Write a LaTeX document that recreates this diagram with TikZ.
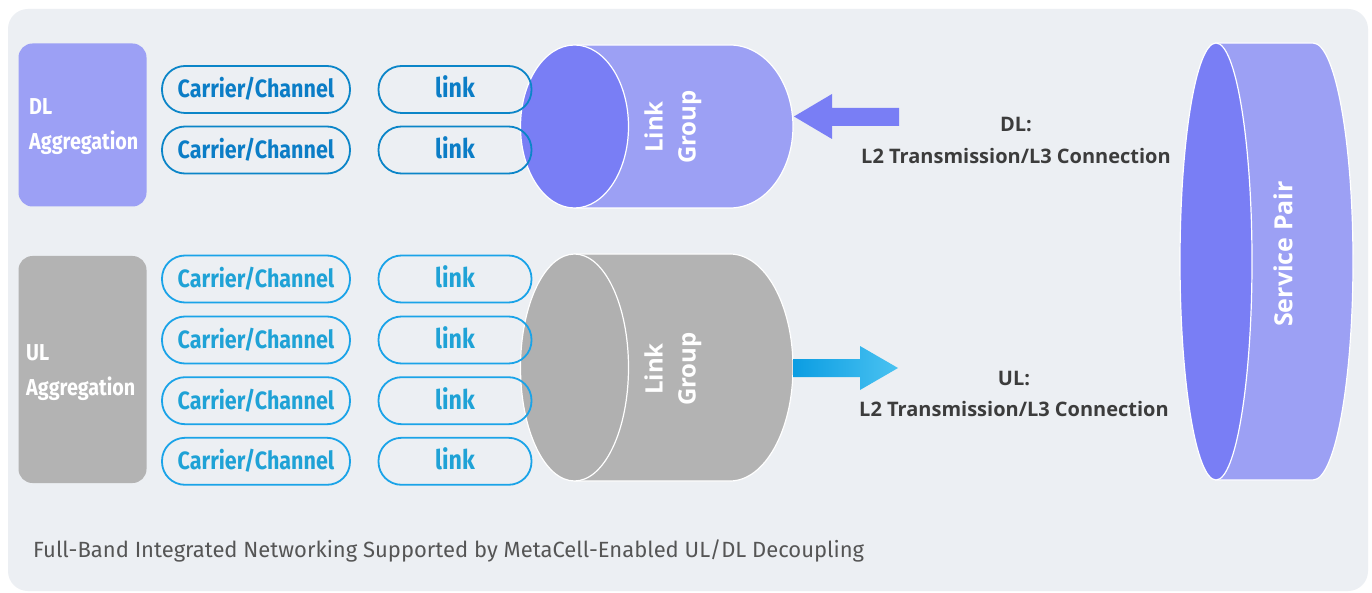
\documentclass[tikz,border=0pt]{standalone}
\usepackage{fontspec}
\setmainfont{Open Sans}
\newfontfamily\cond[FakeStretch=0.86]{Fira Sans}
\newfontfamily\capfont{Fira Sans}
\usetikzlibrary{calc}
\definecolor{bg}{HTML}{ECEFF3}
\definecolor{dlbox}{HTML}{9CA0F5}
\definecolor{ulbox}{HTML}{B3B3B3}
\definecolor{dlbody}{HTML}{9CA0F4}
\definecolor{dlface}{HTML}{797EF5}
\definecolor{ulbody}{HTML}{B3B3B3}
\definecolor{ulface}{HTML}{B0B0B0}
\definecolor{dlline}{HTML}{0B85C8}
\definecolor{dltext}{HTML}{0B7DC6}
\definecolor{ulline}{HTML}{1AA3E8}
\definecolor{ultext}{HTML}{1FA2D6}
\definecolor{arrA}{HTML}{0B9DE2}
\definecolor{arrB}{HTML}{4AC2F1}
\definecolor{labtext}{HTML}{3C3C3C}
\definecolor{captext}{HTML}{555555}
\tikzset{
  aggbox/.style={rounded corners=14pt, minimum width=128pt, inner sep=0pt, draw=none},
  aggtext/.style={anchor=base west, text=white, inner sep=0pt, font=\cond\bfseries\fontsize{23}{28}\selectfont},
  pill/.style={rounded corners=23pt, minimum height=47pt, inner sep=0pt, line width=1.8pt, text height=17pt, text depth=0pt, font=\cond\bfseries\fontsize{25}{30}\selectfont},
  carrier/.style={pill, minimum width=188pt},
  linkpill/.style={pill, minimum width=153pt, font=\cond\bfseries\fontsize{27}{30}\selectfont},
  dlpill/.style={draw=dlline, text=dltext},
  ulpill/.style={draw=ulline, text=ultext},
  cyltext/.style={rotate=90, text=white, align=center, inner sep=0pt, font=\bfseries\fontsize{24}{33}\selectfont},
  lab/.style={anchor=base, text=labtext, inner sep=0pt, font=\bfseries\fontsize{20}{24}\selectfont},
}
\begin{document}
\begin{tikzpicture}[x=1pt,y=-1pt]
\useasboundingbox (0,0) rectangle (1372,593);
\fill[white] (0,0) rectangle (1372,593);
\fill[bg, rounded corners=20pt] (8,9) rectangle (1368,591);

% aggregation boxes
\node[aggbox, fill=dlbox, minimum height=163pt] (dlagg) at (82.5,125) {};
\node[aggbox, fill=ulbox, minimum height=227pt] (ulagg) at (82.5,369.5) {};
\node[aggtext] (dlagg1) at (29,115) {DL};
\node[aggtext] (dlagg2) at (29,150) {Aggregation};
\node[aggtext] (ulagg1) at (26,360) {UL};
\node[aggtext] (ulagg2) at (26,395) {Aggregation};

% DL link group cylinder
\draw[fill=dlbody, draw=white, line width=1.2pt] (574.5,45) -- (730,45)
  arc[start angle=-90, end angle=90, x radius=63, y radius=81.5] -- (574.5,208) -- cycle;
\draw[fill=dlface, draw=white, line width=1.2pt] (574.5,126.5) ellipse [x radius=54, y radius=81.5];
\node[cyltext] (dlgroup) at (673,127) {Link\\Group};

% UL link group cylinder
\draw[fill=ulbody, draw=white, line width=1.2pt] (574.5,254) -- (730,254)
  arc[start angle=-90, end angle=90, x radius=63, y radius=113.5] -- (574.5,481) -- cycle;
\draw[fill=ulface, draw=white, line width=1.2pt] (574.5,367.5) ellipse [x radius=54, y radius=113.5];
\node[cyltext] (ulgroup) at (673,369) {Link\\Group};

% Service pair cylinder
\draw[fill=dlbody, draw=white, line width=1.2pt] (1216,43) -- (1313,43)
  arc[start angle=-90, end angle=90, x radius=40, y radius=218.5] -- (1216,480) -- cycle;
\draw[fill=dlface, draw=white, line width=1.2pt] (1216,261.5) ellipse [x radius=36, y radius=218.5];
\node[cyltext, font=\bfseries\fontsize{25}{28}\selectfont] (service) at (1283,254) {Service Pair};

% arrows
\coordinate (dltip) at (794,116.5);
\coordinate (dltail) at (899,117);
\fill[dlface] (dltip) -- ($(dltip)+(38,-22.5)$) -- ($(dltip)+(38,-8.5)$) -- ($(dltail)+(0,-9)$)
  -- ($(dltail)+(0,9)$) -- ($(dltip)+(38,9.5)$) -- ($(dltip)+(38,22.5)$) -- cycle;
\coordinate (ultail) at (793,368);
\coordinate (ultip) at (898,368);
\shade[left color=arrA, right color=arrB] ($(ultail)+(0,-9)$) -- ($(ultail)+(67,-9)$) -- ($(ultail)+(67,-22)$)
  -- (ultip) -- ($(ultail)+(67,22)$) -- ($(ultail)+(67,9)$) -- ($(ultail)+(0,9)$) -- cycle;

% labels
\node[lab] (dllab1) at (1016,132) {DL:};
\node[lab] (dllab2) at (1016,164) {L2 Transmission/L3 Connection};
\node[lab] (ullab1) at (1014,385) {UL:};
\node[lab] (ullab2) at (1014,416) {L2 Transmission/L3 Connection};

% pills
\node[carrier, dlpill] (dc1) at (256,89.5) {Carrier/Channel};
\node[carrier, dlpill] (dc2) at (256,150) {Carrier/Channel};
\node[linkpill, dlpill] (dk1) at (455,89.5) {link};
\node[linkpill, dlpill] (dk2) at (455,150) {link};
\foreach \i/\y in {1/279,2/340,3/400.7,4/461.3}{
  \node[carrier, ulpill] (uc\i) at (256,\y) {Carrier/Channel};
  \node[linkpill, ulpill] (uk\i) at (455,\y) {link};
}

% caption
\node[anchor=base west, inner sep=0pt, text=captext, font=\capfont\fontsize{22}{26}\selectfont] (caption) at (33,557)
  {Full-Band Integrated Networking Supported by MetaCell-Enabled UL/DL Decoupling};
\end{tikzpicture}
\end{document}
